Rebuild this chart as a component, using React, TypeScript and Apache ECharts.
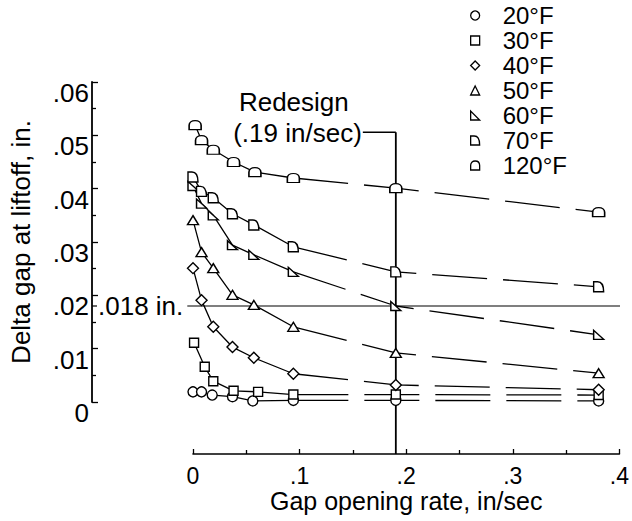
import React, { useEffect, useRef } from "react";
import * as echarts from "echarts";

const FONT = "'Liberation Sans', Arial, Helvetica, sans-serif";
const FONT_SIZE = 26;
const LEGEND_FONT_SIZE = 24;
const X_LABEL_FONT_SIZE = 23;
const X_NAME_FONT_SIZE = 25;

const TEMPERATURES = ["20°F", "30°F", "40°F", "50°F", "60°F", "70°F", "120°F"];

// Gap opening rate (in/sec) for each temperature
const RATES_20 = [0, 0.008, 0.018, 0.037, 0.056, 0.094, 0.19, 0.38];
const RATES_30 = [0.001, 0.011, 0.019, 0.038, 0.061, 0.094, 0.19, 0.38];
const RATES_STD = [0, 0.008, 0.019, 0.037, 0.057, 0.094, 0.19, 0.38];
const RATES_120 = [0.002, 0.008, 0.019, 0.038, 0.058, 0.094, 0.19, 0.38];

// Delta gap at liftoff (in.)
const GAP_20 = [0.0019, 0.0019, 0.0013, 0.001, 0.0002, 0.0003, 0.0003, 0.0002];
const GAP_30 = [0.0111, 0.0066, 0.0039, 0.0021, 0.0019, 0.0014, 0.0014, 0.0013];
const GAP_40 = [0.0251, 0.0191, 0.0141, 0.0103, 0.0083, 0.0053, 0.0032, 0.0023];
const GAP_50 = [0.0341, 0.0281, 0.0251, 0.0201, 0.0182, 0.0141, 0.0092, 0.0054];
const GAP_60 = [0.0405, 0.0372, 0.035, 0.0294, 0.0276, 0.0244, 0.018, 0.0126];
const GAP_70 = [0.0422, 0.0395, 0.0383, 0.0353, 0.0332, 0.0291, 0.0244, 0.0216];
const GAP_120 = [0.0519, 0.0491, 0.0473, 0.045, 0.0431, 0.042, 0.0401, 0.0356];

const RATES = [RATES_20, RATES_30, RATES_STD, RATES_STD, RATES_STD, RATES_STD, RATES_120];
const GAPS = [GAP_20, GAP_30, GAP_40, GAP_50, GAP_60, GAP_70, GAP_120];

// index of the point where the line becomes dashed
const DASH_FROM = 5;

const X_MAX = 0.4;
const Y_MAX = 0.06;
const REDESIGN_RATE = 0.19;
const LIMIT_GAP = 0.018;
const REDESIGN_LEADER_GAP = 0.0506;

const SYMBOLS = [
  "circle",
  "rect",
  "diamond",
  "triangle",
  "path://M0,0 L0,10 L10,10 Z",
  "path://M0,0 L4,0 C8,0 10,4 10,10 L0,10 Z",
  "path://M0,10 L0,5 C0,2 2,0 5,0 C8,0 10,2 10,5 L10,10 Z",
];
const SYMBOL_SIZES: any[] = [10, 9, 11, [11, 9], [10, 9], [10, 10], [12, 9]];

const W = 632;
const H = 521;
const LEFT_Y = 92;
const LEFT_X = 193;
const RIGHT = 12;
const TOP = 82;
const Y_BOTTOM = 402;
const X_AXIS_Y = 454;

export default function App() {
  const ref = useRef<HTMLDivElement>(null);

  useEffect(() => {
    if (!ref.current) return;
    const chart = echarts.init(ref.current, null, { renderer: "svg" });

    const xMinLeft = (-X_MAX * (LEFT_X - LEFT_Y)) / (W - RIGHT - LEFT_X);

    const series: any[] = [];
    TEMPERATURES.forEach((t, i) => {
      const pts = RATES[i].map((x, k) => [x, GAPS[i][k]]);
      series.push({
        type: "line",
        name: t + " fit",
        xAxisIndex: 0,
        yAxisIndex: 0,
        data: pts.slice(0, DASH_FROM + 1),
        symbol: "none",
        silent: true,
        lineStyle: { color: "#000", width: 1.3 },
        z: 2,
      });
      series.push({
        type: "line",
        name: t + " extension",
        xAxisIndex: 0,
        yAxisIndex: 0,
        data: pts.slice(DASH_FROM),
        symbol: "none",
        silent: true,
        lineStyle: { color: "#000", width: 1.3, type: [55, 16] },
        z: 2,
      });
      series.push({
        type: "scatter",
        name: t,
        xAxisIndex: 0,
        yAxisIndex: 0,
        data: pts,
        symbol: SYMBOLS[i],
        symbolSize: SYMBOL_SIZES[i],
        itemStyle: { color: "#fff", borderColor: "#000", borderWidth: 1.4, opacity: 1 },
        z: 4,
      });
    });

    const labelStyle = { fontFamily: FONT, fontSize: FONT_SIZE, color: "#000" };

    chart.setOption({
      animation: false,
      backgroundColor: "#fff",
      textStyle: { fontFamily: FONT },
      legend: {
        orient: "vertical",
        left: 470,
        top: 3,
        padding: 0,
        itemGap: 0,
        itemWidth: 9,
        itemHeight: 9,
        selectedMode: false,
        data: TEMPERATURES.map((t, i) => ({ name: t, icon: SYMBOLS[i] })),
        itemStyle: { color: "#fff", borderColor: "#000", borderWidth: 1.3 },
        textStyle: {
          fontFamily: FONT,
          fontSize: LEGEND_FONT_SIZE,
          color: "#000",
          lineHeight: 25,
          padding: [0, 0, 0, 18],
        },
      },
      grid: [
        { left: LEFT_Y, right: RIGHT, top: TOP, bottom: H - Y_BOTTOM },
        { left: LEFT_X, right: RIGHT, top: Y_BOTTOM, bottom: H - X_AXIS_Y },
      ],
      xAxis: [
        { gridIndex: 0, type: "value", min: xMinLeft, max: X_MAX, show: false },
        {
          gridIndex: 1,
          type: "value",
          min: 0,
          max: X_MAX,
          interval: 0.1,
          axisLine: { show: true, onZero: false, lineStyle: { color: "#000", width: 1.6 } },
          axisTick: { show: true, inside: true, length: 5, lineStyle: { color: "#000", width: 1.3 } },
          minorTick: { show: true, splitNumber: 2, length: 4, lineStyle: { color: "#000", width: 1.3 } },
          splitLine: { show: false },
          axisLabel: {
            fontFamily: FONT,
            fontSize: X_LABEL_FONT_SIZE,
            color: "#000",
            margin: 11,
            lineHeight: 22,
            formatter: (v: number) => (v === 0 ? "0" : v.toFixed(1).replace(/^0/, "")),
          },
          name: "Gap opening rate, in/sec",
          nameLocation: "middle",
          nameGap: 34,
          nameTextStyle: { fontFamily: FONT, fontSize: X_NAME_FONT_SIZE, color: "#000", lineHeight: 24 },
        },
      ],
      yAxis: [
        {
          gridIndex: 0,
          type: "value",
          min: 0,
          max: Y_MAX,
          interval: 0.01,
          axisLine: { show: true, onZero: false, lineStyle: { color: "#000", width: 1.8 } },
          axisTick: { show: true, inside: true, length: 6, lineStyle: { color: "#000", width: 1.3 } },
          minorTick: { show: true, splitNumber: 2, length: 4, lineStyle: { color: "#000", width: 1.3 } },
          splitLine: { show: false },
          axisLabel: {
            ...labelStyle,
            margin: 3,
            verticalAlign: "top",
            lineHeight: 22,
            formatter: (v: number) => (v === 0 ? "0" : v.toFixed(2).replace(/^0/, "")),
          },
          name: "Delta gap at liftoff, in.",
          nameLocation: "middle",
          nameGap: 58,
          nameRotate: 90,
          nameTextStyle: labelStyle,
        },
        { gridIndex: 1, type: "value", min: 0, max: 1, show: false },
      ],
      series,
    });

    const [vx, leaderY] = chart.convertToPixel({ gridIndex: 0 }, [REDESIGN_RATE, REDESIGN_LEADER_GAP]) as number[];
    const [, axisY] = chart.convertToPixel({ gridIndex: 1 }, [0, 0]) as number[];
    const [hx0, hy] = chart.convertToPixel({ gridIndex: 0 }, [xMinLeft, LIMIT_GAP]) as number[];
    const [hx1] = chart.convertToPixel({ gridIndex: 0 }, [X_MAX, LIMIT_GAP]) as number[];

    const canvas = document.createElement("canvas");
    const ctx = canvas.getContext("2d")!;
    ctx.font = `${FONT_SIZE}px ${FONT}`;
    const limitText = ".018 in.";
    const limitW = ctx.measureText(limitText).width;

    const textEl = (text: string, x: number, y: number, align: string) => ({
      type: "text",
      x,
      y,
      z: 10,
      style: {
        text,
        x: 0,
        y: 0,
        fill: "#000",
        font: `${FONT_SIZE}px ${FONT}`,
        align,
        verticalAlign: "middle",
      },
    });

    chart.setOption({
      graphic: [
        {
          type: "line",
          z: 1,
          shape: { x1: vx, y1: leaderY, x2: vx, y2: axisY },
          style: { stroke: "#000", lineWidth: 1.8 },
        },
        {
          type: "line",
          z: 1,
          shape: { x1: vx - 33, y1: leaderY, x2: vx, y2: leaderY },
          style: { stroke: "#000", lineWidth: 1.5 },
        },
        {
          type: "line",
          z: 1,
          shape: { x1: hx0, y1: hy, x2: hx0 + 5, y2: hy },
          style: { stroke: "#000", lineWidth: 1.2 },
        },
        {
          type: "line",
          z: 1,
          shape: { x1: hx0 + 6 + limitW + 4, y1: hy, x2: hx1, y2: hy },
          style: { stroke: "#000", lineWidth: 1.2 },
        },
        textEl(limitText, hx0 + 6, hy, "left"),
        textEl("(.19 in/sec)", vx - 34, leaderY + 1, "right"),
        textEl("Redesign", vx - 102, leaderY - 30, "center"),
      ],
    });

    return () => chart.dispose();
  }, []);

  return (
    <div
      ref={ref}
      style={{ position: "fixed", left: 0, top: 0, width: W, height: H, background: "#fff" }}
    />
  );
}
